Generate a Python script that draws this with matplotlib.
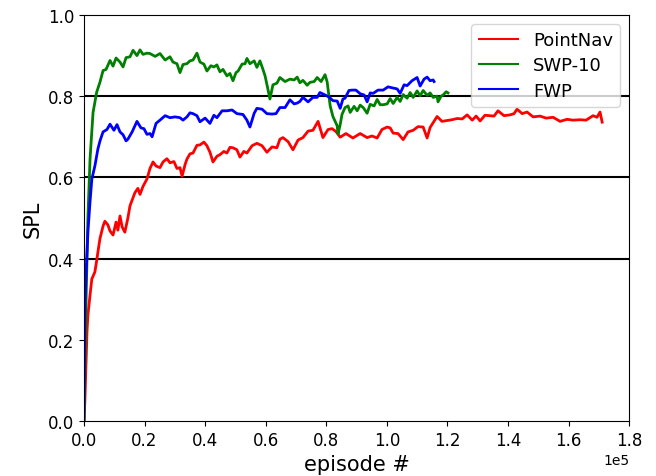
import matplotlib
matplotlib.use("Agg")
import matplotlib.pyplot as plt
import numpy as np

# x values in thousands of episodes
pointnav_x = [0, 0.3, 0.7, 1.0, 1.3, 2.0, 2.6, 3.6, 4.3, 4.6,
              5.3, 6.3, 6.9, 7.9, 8.6, 9.6, 10.6, 11.2, 11.9, 12.6,
              13.5, 14.5, 15.2, 16.2, 16.8, 17.8, 18.5, 19.5, 20.8, 21.8,
              22.8, 23.8, 25.1, 26.1, 27.4, 28.4, 29.7, 30.7, 31.7, 32.4,
              33.4, 34.0, 35.0, 36.0, 37.3, 38.3, 39.6, 40.6, 41.6, 42.6,
              43.9, 44.9, 46.2, 47.2, 48.2, 49.2, 50.5, 51.5, 52.8, 53.8,
              55.5, 57.1, 58.8, 60.4, 62.1, 63.7, 64.7, 65.7, 67.4, 69.0,
              70.7, 72.3, 74.0, 75.6, 77.3, 78.9, 80.6, 81.9, 83.2, 84.6,
              86.5, 88.8, 91.2, 93.5, 95.1, 96.8, 98.4, 100.1, 101.1, 102.1,
              103.7, 105.4, 107.0, 108.7, 110.3, 112.0, 113.3, 114.3, 115.6, 116.6,
              118.2, 119.9, 121.5, 123.2, 124.9, 126.5, 128.2, 129.5, 130.8, 132.4,
              134.1, 135.4, 136.7, 138.7, 140.7, 142.0, 143.0, 144.7, 146.3, 148.3,
              150.6, 152.6, 154.9, 157.2, 159.5, 161.5, 163.8, 165.8, 168.1, 169.4,
              170.4, 171.1]
pointnav_y = [0.0, 0.05, 0.15, 0.22, 0.26, 0.31, 0.35, 0.367, 0.40, 0.416,
              0.45, 0.48, 0.492, 0.483, 0.468, 0.458, 0.49, 0.47, 0.505, 0.478,
              0.465, 0.50, 0.53, 0.55, 0.562, 0.573, 0.558, 0.578, 0.596, 0.622,
              0.638, 0.628, 0.624, 0.638, 0.646, 0.636, 0.639, 0.622, 0.624, 0.603,
              0.632, 0.645, 0.658, 0.66, 0.679, 0.68, 0.687, 0.678, 0.662, 0.638,
              0.652, 0.656, 0.664, 0.66, 0.674, 0.673, 0.668, 0.65, 0.664, 0.66,
              0.678, 0.684, 0.678, 0.662, 0.675, 0.673, 0.694, 0.698, 0.688, 0.668,
              0.692, 0.698, 0.714, 0.716, 0.738, 0.698, 0.718, 0.72, 0.713, 0.699,
              0.708, 0.697, 0.708, 0.698, 0.702, 0.697, 0.718, 0.724, 0.722, 0.709,
              0.708, 0.693, 0.712, 0.716, 0.725, 0.724, 0.697, 0.723, 0.738, 0.75,
              0.738, 0.74, 0.742, 0.745, 0.744, 0.754, 0.741, 0.751, 0.739, 0.753,
              0.752, 0.751, 0.764, 0.752, 0.754, 0.757, 0.768, 0.757, 0.761, 0.749,
              0.751, 0.746, 0.748, 0.738, 0.743, 0.741, 0.742, 0.741, 0.752, 0.748,
              0.761, 0.736]

swp_x = [0, 0.7, 1.3, 2.0, 3.0, 4.2, 5.3, 6.3, 7.3, 8.6,
         9.6, 10.6, 11.9, 12.9, 13.9, 15.2, 16.2, 17.5, 18.5, 19.5,
         20.8, 21.8, 23.5, 25.1, 26.8, 28.4, 29.4, 30.7, 31.7, 32.7,
         34.0, 35.0, 36.0, 37.3, 38.3, 39.6, 40.6, 41.9, 42.9, 43.9,
         44.9, 45.9, 47.2, 48.2, 49.2, 50.2, 50.9, 52.2, 53.2, 53.8,
         54.8, 56.2, 57.1, 58.1, 59.1, 59.8, 60.8, 61.4, 62.4, 63.7,
         64.7, 66.4, 68.0, 69.4, 70.4, 71.3, 72.3, 73.7, 74.6, 76.0,
         77.0, 78.3, 79.6, 80.3, 81.3, 82.2, 83.6, 83.9, 84.6, 85.2,
         86.2, 87.2, 87.9, 89.2, 90.2, 91.2, 92.2, 93.5, 94.5, 95.8,
         96.8, 97.8, 98.8, 100.1, 101.1, 102.1, 103.4, 104.4, 105.4, 106.7,
         107.7, 108.7, 110.0, 111.0, 112.0, 113.3, 114.3, 115.3, 116.6, 116.9,
         117.9, 118.6, 119.6, 120.2]
swp_y = [0.0, 0.3, 0.5, 0.645, 0.76, 0.81, 0.835, 0.863, 0.866, 0.888,
         0.874, 0.894, 0.884, 0.872, 0.895, 0.897, 0.913, 0.9, 0.914, 0.903,
         0.906, 0.905, 0.898, 0.905, 0.889, 0.897, 0.884, 0.88, 0.858, 0.878,
         0.88, 0.887, 0.889, 0.906, 0.884, 0.879, 0.862, 0.875, 0.872, 0.877,
         0.86, 0.866, 0.85, 0.856, 0.838, 0.858, 0.862, 0.879, 0.88, 0.893,
         0.88, 0.887, 0.871, 0.887, 0.866, 0.85, 0.815, 0.793, 0.828, 0.832,
         0.846, 0.836, 0.842, 0.84, 0.847, 0.833, 0.839, 0.827, 0.834, 0.836,
         0.846, 0.836, 0.853, 0.835, 0.776, 0.75, 0.727, 0.707, 0.73, 0.755,
         0.772, 0.776, 0.76, 0.775, 0.764, 0.778, 0.772, 0.758, 0.78, 0.776,
         0.792, 0.779, 0.779, 0.781, 0.794, 0.782, 0.797, 0.787, 0.804, 0.795,
         0.809, 0.797, 0.813, 0.801, 0.814, 0.802, 0.808, 0.797, 0.8, 0.786,
         0.8, 0.803, 0.811, 0.808]

fwp_x = [0, 0.3, 0.8, 1.3, 2.0, 2.6, 3.6, 4.6, 5.3, 6.3,
         7.6, 8.6, 9.9, 10.9, 11.9, 12.9, 13.9, 14.5, 15.9, 17.5,
         18.8, 19.8, 20.8, 21.8, 22.5, 23.8, 25.1, 26.8, 28.4, 30.1,
         31.7, 32.7, 34.0, 35.0, 36.0, 37.3, 38.3, 40.0, 41.6, 42.9,
         43.9, 45.6, 47.2, 48.9, 50.5, 52.5, 53.8, 54.8, 56.2, 57.1,
         58.8, 60.4, 62.1, 63.4, 64.7, 66.4, 68.0, 69.4, 70.4, 71.3,
         72.3, 74.0, 75.6, 77.0, 77.9, 79.6, 80.9, 82.2, 83.6, 84.6,
         85.5, 86.2, 87.5, 88.5, 89.8, 91.2, 92.5, 93.5, 94.5, 95.5,
         97.1, 98.8, 100.4, 102.1, 103.4, 104.4, 105.7, 106.7, 108.3, 110.0,
         111.0, 112.3, 113.3, 114.3, 115.3, 115.6]
fwp_y = [0.0, 0.283, 0.38, 0.465, 0.54, 0.596, 0.628, 0.67, 0.69, 0.712,
         0.718, 0.731, 0.716, 0.73, 0.712, 0.705, 0.69, 0.694, 0.712, 0.738,
         0.722, 0.72, 0.706, 0.708, 0.7, 0.733, 0.741, 0.752, 0.747, 0.749,
         0.747, 0.741, 0.749, 0.759, 0.757, 0.752, 0.737, 0.746, 0.733, 0.753,
         0.747, 0.764, 0.764, 0.766, 0.757, 0.755, 0.741, 0.724, 0.758, 0.77,
         0.768, 0.757, 0.756, 0.757, 0.772, 0.772, 0.791, 0.781, 0.783, 0.787,
         0.797, 0.786, 0.797, 0.797, 0.809, 0.803, 0.798, 0.789, 0.788, 0.77,
         0.793, 0.795, 0.814, 0.815, 0.815, 0.806, 0.803, 0.786, 0.808, 0.807,
         0.815, 0.815, 0.823, 0.82, 0.818, 0.807, 0.828, 0.826, 0.838, 0.846,
         0.825, 0.842, 0.847, 0.838, 0.84, 0.836]

labels = ["PointNav", "SWP-10", "FWP"]
colors = ["red", "green", "blue"]
grid_levels = [0.4, 0.6, 0.8]

fig = plt.figure(figsize=(6.56, 4.77), dpi=100)
ax = fig.add_axes([0.128, 0.1153, 0.831, 0.8512])

for lvl in grid_levels:
    ax.axhline(lvl, color="black", lw=1.5, zorder=1)

for xs, ys, lab, c in zip([pointnav_x, swp_x, fwp_x], [pointnav_y, swp_y, fwp_y], labels, colors):
    ax.plot(np.array(xs) * 1000, ys, color=c, lw=2, label=lab, zorder=2)

ax.set_xlim(0, 180000)
ax.set_ylim(0, 1.0)
ax.set_xticks(np.arange(0, 180001, 20000))
ax.set_yticks([0.0, 0.2, 0.4, 0.6, 0.8, 1.0])
ax.ticklabel_format(style="sci", axis="x", scilimits=(0, 0))
ax.tick_params(labelsize=12)
ax.xaxis.get_offset_text().set_fontsize(10)
ax.set_xlabel("episode #", fontsize=15)
ax.set_ylabel("SPL", fontsize=15)
leg = ax.legend(loc="upper right", fontsize=13, handlelength=2.2, labelspacing=0.4,
                borderaxespad=0.5)
for line in leg.get_lines():
    line.set_linewidth(1.5)

fig.savefig("out.png", dpi=100)
